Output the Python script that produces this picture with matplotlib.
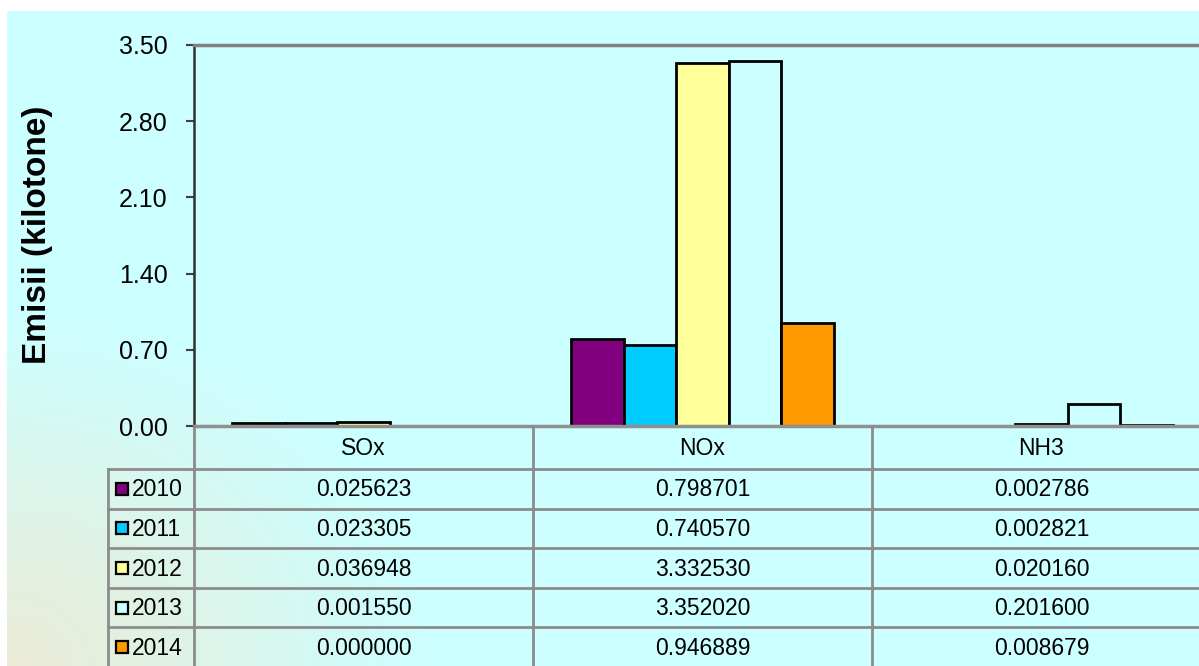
import matplotlib
matplotlib.use("Agg")
import matplotlib.pyplot as plt
from matplotlib.lines import Line2D
from matplotlib.patches import Rectangle
import numpy as np

plt.rcParams["font.family"] = ["Liberation Sans", "DejaVu Sans"]

# data
pollutants = ["SOx", "NOx", "NH3"]
years = ["2010", "2011", "2012", "2013", "2014"]
emissions = {
    "2010": [0.025623, 0.798701, 0.002786],
    "2011": [0.023305, 0.740570, 0.002821],
    "2012": [0.036948, 3.332530, 0.020160],
    "2013": [0.001550, 3.352020, 0.201600],
    "2014": [0.000000, 0.946889, 0.008679],
}
yticks = [0.0, 0.7, 1.4, 2.1, 2.8, 3.5]

bg = "#CCFFFF"
fills = {"2010": "#800080", "2011": "#00CCFF", "2012": "#FFFF99", "2013": bg, "2014": "#FF9900"}

W, H = 1199, 666
fig = plt.figure(figsize=(W / 100, H / 100), dpi=100)


def fx(x):
    return x / W


def fy(y):
    return 1 - y / H


# background panel with a soft gradient in the lower-left corner
bax = fig.add_axes([fx(7), 0, 1 - fx(7), fy(11)])
bax.set_axis_off()
gx, gy = np.meshgrid(np.linspace(0, W - 7, 300), np.linspace(0, H - 11, 200))
d = np.sqrt(gx ** 2 + (gy * 1.2) ** 2)
t = np.clip(1 - d / 420, 0, 1)[..., None]
c1 = np.array(matplotlib.colors.to_rgb(bg))
c2 = np.array(matplotlib.colors.to_rgb("#ECEBD6"))
img = c1 * (1 - t) + c2 * t
bax.imshow(img, origin="lower", aspect="auto", extent=[0, 1, 0, 1])
bax.set_xlim(0, 1)
bax.set_ylim(0, 1)

# main axes
left, right, top, bottom = 194, 194 + 3 * 339, 45, 426
ax = fig.add_axes([fx(left), fy(bottom), fx(right - left), fy(top) - fy(bottom)])
ax.patch.set_alpha(0)

x = np.arange(len(pollutants))
bw = 0.1546
for i, yr in enumerate(years):
    ax.bar(x + (i - 2) * bw, emissions[yr], width=bw, color=fills[yr],
           edgecolor="black", linewidth=2, zorder=3)

ax.set_xlim(-0.5, 2.5)
ax.set_ylim(0, 3.5)
ax.set_yticks(yticks)
ax.set_yticklabels([f"{v:.2f}" for v in yticks], fontsize=18)
ax.set_xticks([])
ax.tick_params(axis="y", length=6, width=1.5, color="#404040", pad=13)
ax.spines["right"].set_visible(False)
ax.spines["top"].set_color("#808080")
ax.spines["top"].set_linewidth(2.5)
ax.spines["bottom"].set_color("#909090")
ax.spines["bottom"].set_linewidth(2.5)
ax.spines["left"].set_color("#303030")
ax.spines["left"].set_linewidth(1.8)
ax.spines["bottom"].set_zorder(4)

fig.text(fx(38), fy(235), "Emisii (kilotone)", rotation=90, ha="center", va="center",
         fontsize=24, fontweight="bold")

# data table below the axes
grid = "#8C8C8C"
lw = 2
row_top = 469
row_h = 39.6
fs = 16.5
col_edges = [left, left + 339, left + 2 * 339, right]


def hline(y, x0, x1):
    fig.add_artist(Line2D([fx(x0), fx(x1)], [fy(y), fy(y)], color=grid, linewidth=lw))


def vline(x, y0, y1):
    fig.add_artist(Line2D([fx(x), fx(x)], [fy(y0), fy(y1)], color=grid, linewidth=lw))


for r in range(len(years)):
    hline(row_top + r * row_h, 108, W + 20)
vline(108, row_top, H + 5)
vline(left, bottom, H + 5)
for ce in col_edges[1:3]:
    vline(ce, bottom, H + 5)

for j, p in enumerate(pollutants):
    cx = (col_edges[j] + col_edges[j + 1]) / 2
    fig.text(fx(cx), fy((bottom + row_top) / 2 + 1), p, ha="center", va="center", fontsize=fs)

for r, yr in enumerate(years):
    cy = row_top + (r + 0.5) * row_h
    fig.add_artist(Rectangle((fx(115.5), fy(cy + 6)), fx(12), 12 / H, facecolor=fills[yr],
                             edgecolor="black", linewidth=1.6))
    fig.text(fx(132), fy(cy + 1), yr, ha="left", va="center", fontsize=fs)
    for j in range(len(pollutants)):
        cx = (col_edges[j] + col_edges[j + 1]) / 2
        fig.text(fx(cx), fy(cy + 1), f"{emissions[yr][j]:.6f}", ha="center", va="center",
                 fontsize=fs)

fig.savefig("out.png", dpi=100)
